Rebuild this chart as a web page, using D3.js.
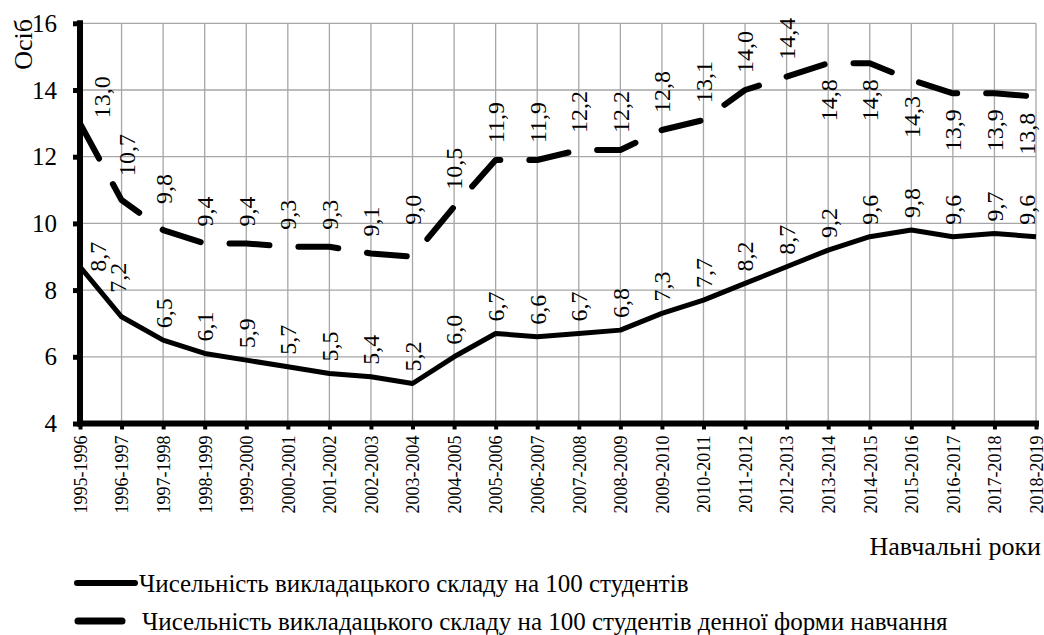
<!DOCTYPE html>
<html>
<head>
<meta charset="utf-8">
<script src="https://cdn.jsdelivr.net/npm/d3@7"></script>
<style>
  body { margin: 0; background: #fff; }
</style>
</head>
<body>
<div id="chart"></div>
<script>
// chart data
var years = ["1995-1996", "1996-1997", "1997-1998", "1998-1999", "1999-2000", "2000-2001",
  "2001-2002", "2002-2003", "2003-2004", "2004-2005", "2005-2006", "2006-2007", "2007-2008",
  "2008-2009", "2009-2010", "2010-2011", "2011-2012", "2012-2013", "2013-2014", "2014-2015",
  "2015-2016", "2016-2017", "2017-2018", "2018-2019"];
var staffPer100 = [8.7, 7.2, 6.5, 6.1, 5.9, 5.7, 5.5, 5.4, 5.2, 6.0, 6.7, 6.6, 6.7, 6.8,
  7.3, 7.7, 8.2, 8.7, 9.2, 9.6, 9.8, 9.6, 9.7, 9.6];
var staffPer100FullTime = [13.0, 10.7, 9.8, 9.4, 9.4, 9.3, 9.3, 9.1, 9.0, 10.5, 11.9, 11.9,
  12.2, 12.2, 12.8, 13.1, 14.0, 14.4, 14.8, 14.8, 14.3, 13.9, 13.9, 13.8];
var yTicks = [4, 6, 8, 10, 12, 14, 16];
var legendNames = ["Чисельність викладацького складу на 100 студентів",
  "Чисельність викладацького складу на 100 студентів денної форми навчання"];

var W = 1044, H = 635;
var plotLeft = 80, plotRight = 1036, plotTop = 23.3, plotBottom = 423.5;
var serif = "'Liberation Serif', 'Times New Roman', serif";

var svg = d3.select("#chart").append("svg")
  .attr("width", W)
  .attr("height", H);

var x = d3.scalePoint()
  .domain(years)
  .range([plotLeft, plotRight]);

var y = d3.scaleLinear()
  .domain([4, 16])
  .range([plotBottom, plotTop]);

// grid
svg.append("g")
  .selectAll("line")
  .data(yTicks)
  .enter().append("line")
    .attr("x1", plotLeft).attr("x2", plotRight)
    .attr("y1", function(d) { return y(d); })
    .attr("y2", function(d) { return y(d); })
    .style("stroke", "#a6a6a6")
    .style("stroke-width", 1.3);
svg.append("g")
  .selectAll("line")
  .data(years)
  .enter().append("line")
    .attr("x1", function(d) { return x(d); })
    .attr("x2", function(d) { return x(d); })
    .attr("y1", plotTop).attr("y2", plotBottom)
    .style("stroke", "#a6a6a6")
    .style("stroke-width", 1.3);

// lines
var line = d3.line()
  .x(function(d, i) { return x(years[i]); })
  .y(function(d) { return y(d); });

svg.append("path")
  .datum(staffPer100)
  .attr("d", line)
  .style("fill", "none")
  .style("stroke", "#000")
  .style("stroke-width", 5)
  .style("stroke-linejoin", "round");

svg.append("path")
  .datum(staffPer100FullTime)
  .attr("d", line)
  .style("fill", "none")
  .style("stroke", "#000")
  .style("stroke-width", 6)
  .style("stroke-linecap", "round")
  .style("stroke-linejoin", "round")
  .style("stroke-dasharray", "40,29");

// axes
var yAxis = svg.append("g")
  .attr("transform", "translate(" + plotLeft + ",0)")
  .call(d3.axisLeft(y).tickValues(yTicks).tickSize(7).tickSizeOuter(0).tickPadding(16));
yAxis.select(".domain").style("stroke-width", 6).attr("d", "M0," + (plotBottom + 3) + "V" + (plotTop - 3));
yAxis.selectAll(".tick line").style("stroke-width", 5);
yAxis.selectAll("text").style("font-size", "25px").style("font-family", serif);

var xAxis = svg.append("g")
  .attr("transform", "translate(0," + plotBottom + ")")
  .call(d3.axisBottom(x).tickSize(6).tickSizeOuter(0));
xAxis.select(".domain").style("stroke-width", 6).attr("d", "M" + (plotLeft - 3) + ",0H" + (plotRight + 3));
xAxis.selectAll(".tick line").style("stroke-width", 4);
xAxis.selectAll("text")
  .style("font-size", "18px")
  .style("font-family", serif)
  .style("text-anchor", "end")
  .attr("transform", "rotate(-90)")
  .attr("x", -12)
  .attr("y", 0)
  .attr("dy", "0.35em");

// value labels
var fmt = function(v) { return d3.format(".1f")(v).replace(".", ","); };

function addLabels(values, place) {
  values.forEach(function(v, i) {
    var p = place(i);
    var px = x(years[i]) + (p.dx || 0), py = y(v);
    svg.append("text")
      .attr("transform", "translate(" + px + "," + (p.below ? py + p.gap : py - p.gap) + ") rotate(-90)")
      .attr("dy", "0.35em")
      .style("text-anchor", p.below ? "end" : "start")
      .style("font-size", "24px")
      .style("font-family", serif)
      .text(fmt(v));
  });
}

var last = years.length - 1;
addLabels(staffPer100, function(i) {
  if (i === 0) return { gap: -5, dx: 18 };
  if (i === 1) return { gap: 24, dx: -4 };
  if (i === last) return { gap: 12, dx: -9 };
  return { gap: 12 };
});
addLabels(staffPer100FullTime, function(i) {
  if (i === 0) return { gap: 5, dx: 22 };
  if (i === 1) return { gap: 24, dx: 5 };
  if (i === 2) return { gap: 26 };
  if (i === 8) return { gap: 32 };
  if (i === last) return { gap: 16, dx: -9, below: true };
  if (i >= 18) return { gap: 16, below: true };
  return { gap: 17 };
});

// axis titles
svg.append("text")
  .attr("transform", "translate(32,19) rotate(-90)")
  .style("text-anchor", "end")
  .style("font-size", "26px")
  .style("font-family", serif)
  .text("Осіб");

svg.append("text")
  .attr("x", 1041)
  .attr("y", 555)
  .style("text-anchor", "end")
  .style("font-size", "26px")
  .style("font-family", serif)
  .text("Навчальні роки");

// legend
var legend = svg.append("g");
legend.append("line")
  .attr("x1", 77).attr("x2", 135).attr("y1", 583).attr("y2", 583)
  .style("stroke", "#000").style("stroke-width", 6).style("stroke-linecap", "round");
legend.append("text")
  .attr("x", 139).attr("y", 592)
  .style("font-size", "25px")
  .style("font-family", serif)
  .text(legendNames[0]);
legend.append("line")
  .attr("x1", 78).attr("x2", 122).attr("y1", 621).attr("y2", 621)
  .style("stroke", "#000").style("stroke-width", 7).style("stroke-linecap", "round");
legend.append("text")
  .attr("x", 142).attr("y", 630)
  .style("font-size", "25px")
  .style("font-family", serif)
  .text(legendNames[1]);
</script>
</body>
</html>
